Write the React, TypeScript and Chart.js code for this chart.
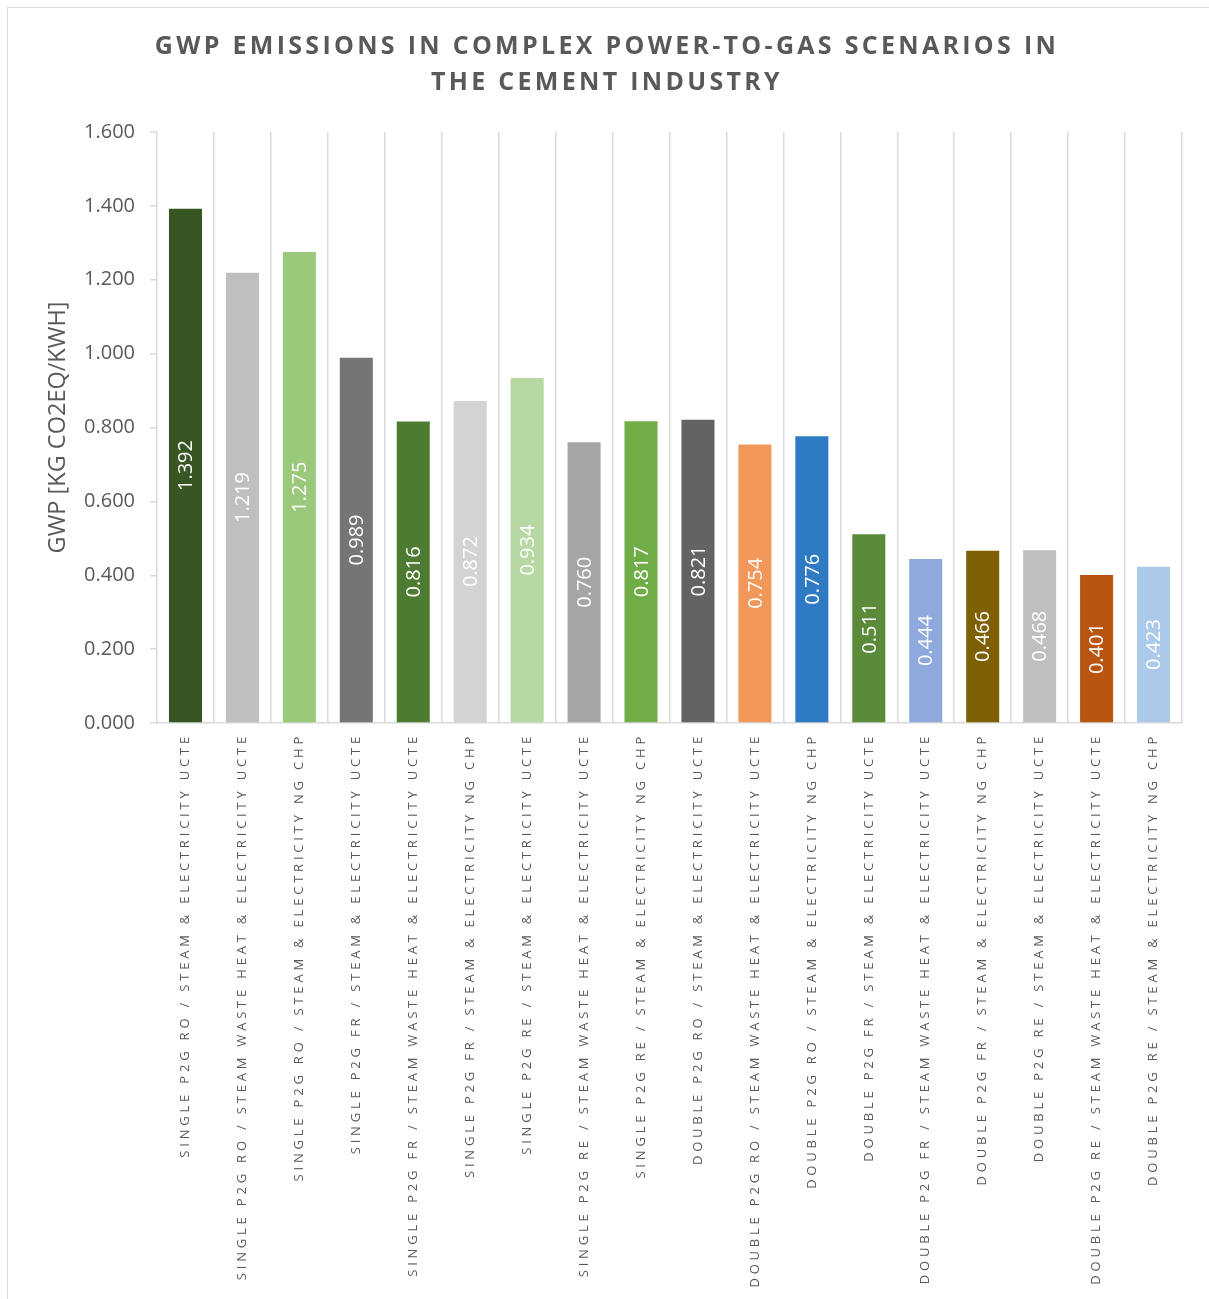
import React, { useEffect, useRef } from "react";
import { Chart, registerables, CategoryScale, LinearScale } from "chart.js";

const TITLE_LINES = [
  "GWP EMISSIONS IN COMPLEX POWER-TO-GAS SCENARIOS IN",
  "THE CEMENT INDUSTRY",
];
const Y_TITLE = "GWP [KG CO2EQ/KWH]";

const categories = [
  "SINGLE P2G RO / STEAM & ELECTRICITY UCTE",
  "SINGLE P2G RO / STEAM WASTE HEAT & ELECTRICITY UCTE",
  "SINGLE P2G RO / STEAM & ELECTRICITY NG CHP",
  "SINGLE P2G FR / STEAM & ELECTRICITY UCTE",
  "SINGLE P2G FR / STEAM WASTE HEAT & ELECTRICITY UCTE",
  "SINGLE P2G FR / STEAM & ELECTRICITY NG CHP",
  "SINGLE P2G RE / STEAM & ELECTRICITY UCTE",
  "SINGLE P2G RE / STEAM WASTE HEAT & ELECTRICITY UCTE",
  "SINGLE P2G RE / STEAM & ELECTRICITY NG CHP",
  "DOUBLE P2G RO / STEAM & ELECTRICITY UCTE",
  "DOUBLE P2G RO / STEAM WASTE HEAT & ELECTRICITY UCTE",
  "DOUBLE P2G RO / STEAM & ELECTRICITY NG CHP",
  "DOUBLE P2G FR / STEAM & ELECTRICITY UCTE",
  "DOUBLE P2G FR / STEAM WASTE HEAT & ELECTRICITY UCTE",
  "DOUBLE P2G FR / STEAM & ELECTRICITY NG CHP",
  "DOUBLE P2G RE / STEAM & ELECTRICITY UCTE",
  "DOUBLE P2G RE / STEAM WASTE HEAT & ELECTRICITY UCTE",
  "DOUBLE P2G RE / STEAM & ELECTRICITY NG CHP",
];

const gwpValues = [
  1.392, 1.219, 1.275, 0.989, 0.816, 0.872, 0.934, 0.76, 0.817, 0.821, 0.754,
  0.776, 0.511, 0.444, 0.466, 0.468, 0.401, 0.423,
];

const barColors = [
  "#375623",
  "#BFBFBF",
  "#9BC97B",
  "#757575",
  "#4E7B32",
  "#D3D3D3",
  "#B7D8A3",
  "#A5A5A5",
  "#70AD47",
  "#636363",
  "#F1975A",
  "#2E7BC4",
  "#5A8A3A",
  "#8EA9DB",
  "#7F6000",
  "#BFBFBF",
  "#B95411",
  "#ABCAE9",
];

const Y_MIN = 0;
const Y_MAX = 1.6;
const Y_STEP = 0.2;

const TEXT_COLOR = "#595959";
const GRID_COLOR = "#d9d9d9";
const FONT = "'Open Sans', 'DejaVu Sans', sans-serif";

class SpacedCategoryScale extends CategoryScale {
  static id = "spacedCategory";
  drawLabels(area: any) {
    const ctx: any = this.ctx;
    ctx.save();
    ctx.letterSpacing = "3.8px";
    super.drawLabels(area);
    ctx.restore();
  }
}

class PlainLinearScale extends LinearScale {
  static id = "plainLinear";
  drawLabels(area: any) {
    const ctx: any = this.ctx;
    ctx.save();
    ctx.letterSpacing = "0px";
    super.drawLabels(area);
    ctx.restore();
  }
  drawTitle() {
    const ctx: any = this.ctx;
    ctx.save();
    ctx.letterSpacing = "0px";
    super.drawTitle();
    ctx.restore();
  }
}

Chart.register(...registerables, SpacedCategoryScale, PlainLinearScale);

const spacingPlugin = {
  id: "spacingPlugin",
  beforeDraw(chart: any) {
    chart.ctx.letterSpacing = "3.3px";
  },
  afterDraw(chart: any) {
    chart.ctx.letterSpacing = "0px";
  },
};

const valueLabelPlugin = {
  id: "valueLabelPlugin",
  afterDatasetsDraw(chart: any) {
    const ctx: any = chart.ctx;
    const meta = chart.getDatasetMeta(0);
    const data = chart.data.datasets[0].data as number[];
    ctx.save();
    ctx.letterSpacing = "0px";
    ctx.fillStyle = "#ffffff";
    ctx.font = `20px ${FONT}`;
    ctx.textAlign = "center";
    ctx.textBaseline = "middle";
    meta.data.forEach((bar: any, i: number) => {
      const cy = (bar.y + bar.base) / 2;
      ctx.save();
      ctx.translate(bar.x, cy);
      ctx.rotate(-Math.PI / 2);
      ctx.fillText(data[i].toFixed(3), 0, 1);
      ctx.restore();
    });
    ctx.restore();
  },
};

export default function App() {
  const canvasRef = useRef<HTMLCanvasElement | null>(null);

  useEffect(() => {
    if (!canvasRef.current) return;
    const chart = new Chart(canvasRef.current, {
      type: "bar",
      data: {
        labels: categories,
        datasets: [
          {
            data: gwpValues,
            backgroundColor: barColors,
            borderWidth: 0,
            barPercentage: 0.58,
            categoryPercentage: 1,
          },
        ],
      },
      options: {
        responsive: false,
        animation: false,
        devicePixelRatio: 1,
        layout: { padding: { left: 24, right: 27, top: 0, bottom: 0 } },
        plugins: {
          legend: { display: false },
          tooltip: { enabled: false },
          title: {
            display: true,
            text: TITLE_LINES,
            color: TEXT_COLOR,
            font: { family: FONT, size: 25, weight: "bold", lineHeight: 1.44 },
            padding: { top: 21, bottom: 31 },
          },
        },
        scales: {
          x: {
            type: "spacedCategory" as any,
            offset: true,
            grid: {
              display: true,
              offset: true,
              drawOnChartArea: true,
              drawTicks: false,
              color: GRID_COLOR,
              lineWidth: 1.5,
            },
            border: { display: true, color: GRID_COLOR, width: 1.5 },
            ticks: {
              autoSkip: false,
              minRotation: 90,
              maxRotation: 90,
              padding: 10,
              color: TEXT_COLOR,
              font: { family: FONT, size: 13 },
            },
            afterFit(scale: any) {
              scale.height = 576;
            },
          },
          y: {
            type: "plainLinear" as any,
            min: Y_MIN,
            max: Y_MAX,
            grid: {
              display: true,
              drawOnChartArea: false,
              drawTicks: true,
              tickLength: 7,
              color: GRID_COLOR,
              lineWidth: 1.5,
            },
            border: { display: false },
            ticks: {
              stepSize: Y_STEP,
              padding: 15,
              color: TEXT_COLOR,
              font: { family: FONT, size: 20 },
              callback: (v: any) => Number(v).toFixed(3),
            },
            title: {
              display: true,
              text: Y_TITLE,
              color: TEXT_COLOR,
              font: { family: FONT, size: 23.5, lineHeight: 1.2 },
              padding: { top: 12, bottom: 0 },
            },
            afterFit(scale: any) {
              scale.width = 125;
            },
          },
        },
      },
      plugins: [spacingPlugin, valueLabelPlugin],
    });
    return () => chart.destroy();
  }, []);

  return (
    <div
      style={{
        position: "absolute",
        left: 7,
        top: 7,
        width: 1210,
        height: 1292,
        borderLeft: `1px solid ${GRID_COLOR}`,
        borderTop: `1px solid ${GRID_COLOR}`,
        boxSizing: "border-box",
        background: "#ffffff",
      }}
    >
      <canvas
        ref={canvasRef}
        width={1201}
        height={1291}
        style={{ display: "block" }}
      />
    </div>
  );
}
